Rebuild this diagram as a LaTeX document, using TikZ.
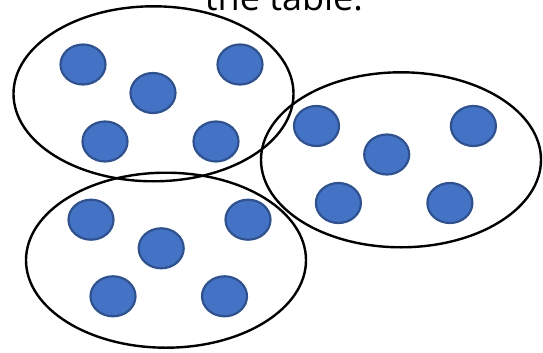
\documentclass[tikz,border=0pt]{standalone}
\usepackage{fontspec}
\setmainfont{Open Sans}
\usepackage{tikz}
\usetikzlibrary{shapes.geometric}
\definecolor{dotfill}{HTML}{4472C4}
\definecolor{dotline}{HTML}{2F528F}
\tikzset{
  grp/.style={ellipse,draw=black,line width=2.4pt,inner sep=0pt,
    minimum width=280pt,minimum height=175pt},
  counter/.style={ellipse,fill=dotfill,draw=dotline,line width=2.2pt,
    inner sep=0pt,minimum width=45pt,minimum height=40pt},
  caption/.style={font=\fontsize{36}{40}\selectfont,inner sep=0pt,anchor=base},
}
\begin{document}
\begin{tikzpicture}[x=1pt,y=-1pt]
  \useasboundingbox (0,0) rectangle (543,353);
  \clip (0,0) rectangle (543,353);
  \node[caption] (title) at (284,10.5) {the table.};
  % groups
  \node[grp] (g1) at (153.5,93.8) {};
  \node[grp] (g2) at (401,159.8) {};
  \node[grp] (g3) at (166,260.2) {};
  % counters, first group
  \node[counter] (a1) at (83,64.5) {};
  \node[counter] (a2) at (153,93) {};
  \node[counter] (a3) at (240,64.5) {};
  \node[counter] (a4) at (105,141.5) {};
  \node[counter] (a5) at (216,141.5) {};
  % second group
  \node[counter] (b1) at (316.5,126) {};
  \node[counter] (b2) at (386.7,154.5) {};
  \node[counter] (b3) at (473.4,126) {};
  \node[counter] (b4) at (338.4,203) {};
  \node[counter] (b5) at (449.9,203) {};
  % third group
  \node[counter] (c1) at (91,219.7) {};
  \node[counter] (c2) at (161.2,248.3) {};
  \node[counter] (c3) at (248,219.7) {};
  \node[counter] (c4) at (113,296.3) {};
  \node[counter] (c5) at (224.5,296.3) {};
\end{tikzpicture}
\end{document}
